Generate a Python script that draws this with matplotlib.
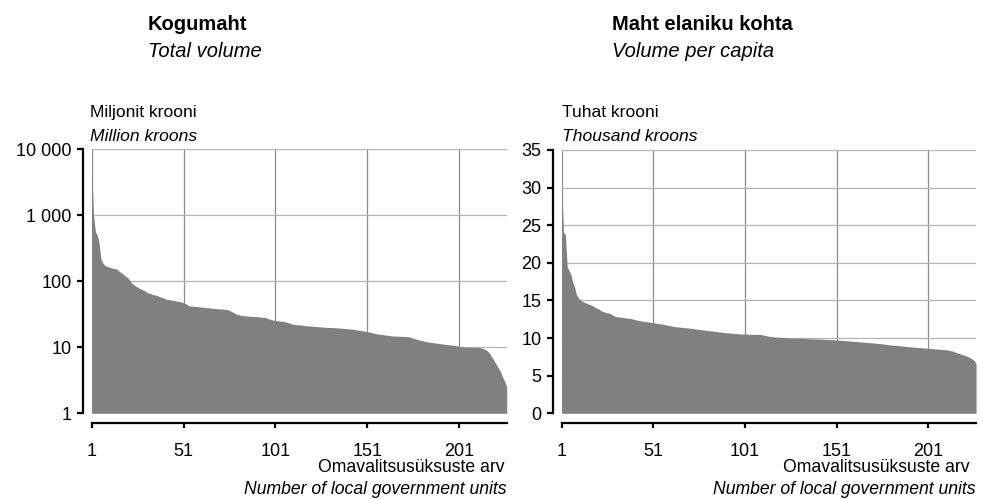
import numpy as np
import matplotlib
matplotlib.use("Agg")
import matplotlib.pyplot as plt
from matplotlib.ticker import FixedLocator, FixedFormatter, NullLocator

plt.rcParams["font.family"] = ["Liberation Sans", "DejaVu Sans"]

# kogumaht, miljonit krooni (sorted, 227 local government units)
total_volume = [
    5100, 1000, 560, 500, 380, 220, 190, 175, 168, 165,
    162, 158, 156, 155, 150, 140, 135, 128, 122, 116,
    110, 100, 92, 88, 84, 81, 78, 76, 73, 71,
    68, 66, 65, 63, 62, 61, 60, 58, 57, 56,
    54, 53, 52.5, 52, 51.5, 51, 50, 49.5, 49, 48.5,
    47, 46, 44, 42.5, 42, 41.8, 41.5, 41.3, 41, 40.8,
    40.5, 40.2, 40, 39.7, 39.4, 39.1, 38.8, 38.6, 38.4, 38.2,
    38, 37.8, 37.6, 37.4, 37, 36, 35, 33.7, 32.5, 31.5,
    31, 30.5, 30.2, 30, 29.8, 29.6, 29.4, 29.3, 29.2, 29.1,
    29, 28.8, 28.6, 28.4, 28.3, 28.0, 27.2, 26.5, 26.0, 25.7,
    25.4, 25.2, 25.0, 24.8, 24.6, 24.4, 24.0, 23.5, 23.0, 22.5,
    22.2, 22.0, 21.9, 21.8, 21.7, 21.5, 21.3, 21.1, 21.0, 20.9,
    20.8, 20.7, 20.6, 20.5, 20.4, 20.3, 20.2, 20.1, 20.0, 19.9,
    19.9, 19.8, 19.8, 19.7, 19.6, 19.5, 19.4, 19.3, 19.2, 19.1,
    19.0, 18.9, 18.8, 18.6, 18.4, 18.2, 18.0, 17.8, 17.6, 17.4,
    17.2, 17.0, 16.8, 16.5, 16.2, 16.0, 15.9, 15.7, 15.6, 15.4,
    15.3, 15.2, 15.0, 14.9, 14.8, 14.8, 14.7, 14.7, 14.6, 14.6,
    14.5, 14.5, 14.5, 14.3, 14.0, 13.7, 13.5, 13.2, 13.0, 12.8,
    12.6, 12.4, 12.2, 12.0, 11.9, 11.8, 11.7, 11.6, 11.5, 11.4,
    11.3, 11.2, 11.1, 11.0, 10.9, 10.85, 10.8, 10.7, 10.6, 10.5,
    10.3, 10.2, 10.1, 10.1, 10.0, 10.0, 10.0, 10.0, 9.95, 9.95,
    9.9, 9.9, 9.8, 9.6, 9.3, 9.0, 8.5, 7.8, 7.0, 6.3,
    5.7, 5.1, 4.6, 4.0, 3.4, 3.0, 2.5,
]

# maht elaniku kohta, tuhat krooni
per_capita = [
    30, 24, 23.8, 19.5, 19.0, 18.5, 17.5, 16.8, 15.8, 15.4,
    15.1, 14.9, 14.8, 14.7, 14.6, 14.5, 14.4, 14.3, 14.1, 14.0,
    13.9, 13.7, 13.6, 13.5, 13.4, 13.35, 13.3, 13.2, 13.0, 12.9,
    12.85, 12.8, 12.8, 12.75, 12.7, 12.7, 12.65, 12.6, 12.6, 12.5,
    12.45, 12.4, 12.35, 12.3, 12.25, 12.2, 12.2, 12.15, 12.1, 12.1,
    12.05, 12.0, 11.95, 11.9, 11.9, 11.85, 11.8, 11.75, 11.7, 11.65,
    11.6, 11.55, 11.5, 11.5, 11.45, 11.45, 11.4, 11.4, 11.35, 11.35,
    11.3, 11.3, 11.25, 11.2, 11.2, 11.15, 11.1, 11.1, 11.05, 11.0,
    11.0, 10.95, 10.95, 10.9, 10.9, 10.85, 10.8, 10.8, 10.75, 10.75,
    10.7, 10.7, 10.65, 10.65, 10.6, 10.6, 10.6, 10.55, 10.55, 10.55,
    10.55, 10.55, 10.5, 10.5, 10.5, 10.5, 10.5, 10.5, 10.5, 10.45,
    10.4, 10.35, 10.3, 10.25, 10.2, 10.2, 10.15, 10.15, 10.1, 10.1,
    10.1, 10.05, 10.05, 10.05, 10.0, 10.0, 10.0, 10.0, 10.0, 9.98,
    9.97, 9.96, 9.95, 9.94, 9.93, 9.92, 9.91, 9.9, 9.89, 9.88,
    9.87, 9.86, 9.85, 9.84, 9.83, 9.82, 9.8, 9.79, 9.78, 9.76,
    9.75, 9.73, 9.71, 9.69, 9.67, 9.65, 9.63, 9.61, 9.59, 9.57,
    9.55, 9.53, 9.51, 9.49, 9.47, 9.45, 9.43, 9.41, 9.39, 9.37,
    9.35, 9.33, 9.3, 9.28, 9.25, 9.22, 9.19, 9.16, 9.13, 9.1,
    9.08, 9.05, 9.03, 9.01, 8.99, 8.97, 8.94, 8.91, 8.88, 8.86,
    8.84, 8.82, 8.8, 8.78, 8.76, 8.74, 8.72, 8.7, 8.68, 8.66,
    8.64, 8.62, 8.6, 8.58, 8.56, 8.54, 8.52, 8.5, 8.48, 8.46,
    8.44, 8.4, 8.35, 8.3, 8.2, 8.1, 8.0, 7.95, 7.85, 7.75,
    7.7, 7.6, 7.5, 7.35, 7.2, 7.0, 6.6,
]

x_ticks = [1, 51, 101, 151, 201]
log_ticks = [1, 10, 100, 1000, 10000]
log_labels = ["1", "10", "100", "1 000", "10 000"]
lin_ticks = [0, 5, 10, 15, 20, 25, 30, 35]

fill_color = "#808080"


def style_axes(ax, n):
    ax.set_xlim(1, n)
    for s in ["top", "right"]:
        ax.spines[s].set_visible(False)
    ax.spines["left"].set_position(("outward", 6))
    ax.spines["bottom"].set_position(("outward", 7))
    ax.spines["left"].set_linewidth(1.6)
    ax.spines["bottom"].set_linewidth(1.6)
    ax.xaxis.set_major_locator(FixedLocator(x_ticks))
    ax.xaxis.set_minor_locator(NullLocator())
    ax.tick_params(axis="x", direction="out", length=3.5, width=1.6, pad=11, labelsize=13)
    ax.tick_params(axis="y", direction="out", length=4.5, width=1.6, pad=4, labelsize=13)
    ax.grid(True, axis="x", color="#8c8c8c", lw=0.9)
    ax.grid(True, axis="y", color="#b4b4b4", lw=0.9)
    ax.set_axisbelow(True)


fig = plt.figure(figsize=(9.83, 4.99), dpi=100)

ax1 = fig.add_axes([0.0933, 0.1717, 0.4222, 0.5297])
n1 = len(total_volume)
x1 = np.arange(1, n1 + 1)
ax1.fill_between(x1, total_volume, 1, color=fill_color, lw=0, zorder=3)
ax1.set_yscale("log")
ax1.set_ylim(1, 10000)
style_axes(ax1, n1)
ax1.yaxis.set_major_locator(FixedLocator(log_ticks))
ax1.yaxis.set_major_formatter(FixedFormatter(log_labels))
ax1.yaxis.set_minor_locator(NullLocator())

ax2 = fig.add_axes([0.5714, 0.1717, 0.4215, 0.5277])
n2 = len(per_capita)
x2 = np.arange(1, n2 + 1)
ax2.fill_between(x2, per_capita, 0, color=fill_color, lw=0, zorder=3)
ax2.set_ylim(0, 35)
style_axes(ax2, n2)
ax2.yaxis.set_major_locator(FixedLocator(lin_ticks))

# titles and unit labels
def px(x, y):
    return x / 983, 1 - y / 499

fig.text(*px(148, 30), "Kogumaht", fontsize=14.5, fontweight="bold", va="baseline")
fig.text(*px(148, 57), "Total volume", fontsize=14.5, style="italic", va="baseline")
fig.text(*px(612, 30), "Maht elaniku kohta", fontsize=14.5, fontweight="bold", va="baseline")
fig.text(*px(612, 57), "Volume per capita", fontsize=14.5, style="italic", va="baseline")

fig.text(*px(90, 117), "Miljonit krooni", fontsize=12.6, va="baseline")
fig.text(*px(90, 141), "Million kroons", fontsize=12.6, style="italic", va="baseline")
fig.text(*px(562, 117), "Tuhat krooni", fontsize=12.6, va="baseline")
fig.text(*px(562, 141), "Thousand kroons", fontsize=12.6, style="italic", va="baseline")

fig.text(*px(505, 472), "Omavalitsusüksuste arv", fontsize=12.7, ha="right", va="baseline")
fig.text(*px(507, 494), "Number of local government units", fontsize=12.7, style="italic", ha="right", va="baseline")
fig.text(*px(970, 472), "Omavalitsusüksuste arv", fontsize=12.7, ha="right", va="baseline")
fig.text(*px(976, 494), "Number of local government units", fontsize=12.7, style="italic", ha="right", va="baseline")

fig.savefig("out.png", dpi=100)
